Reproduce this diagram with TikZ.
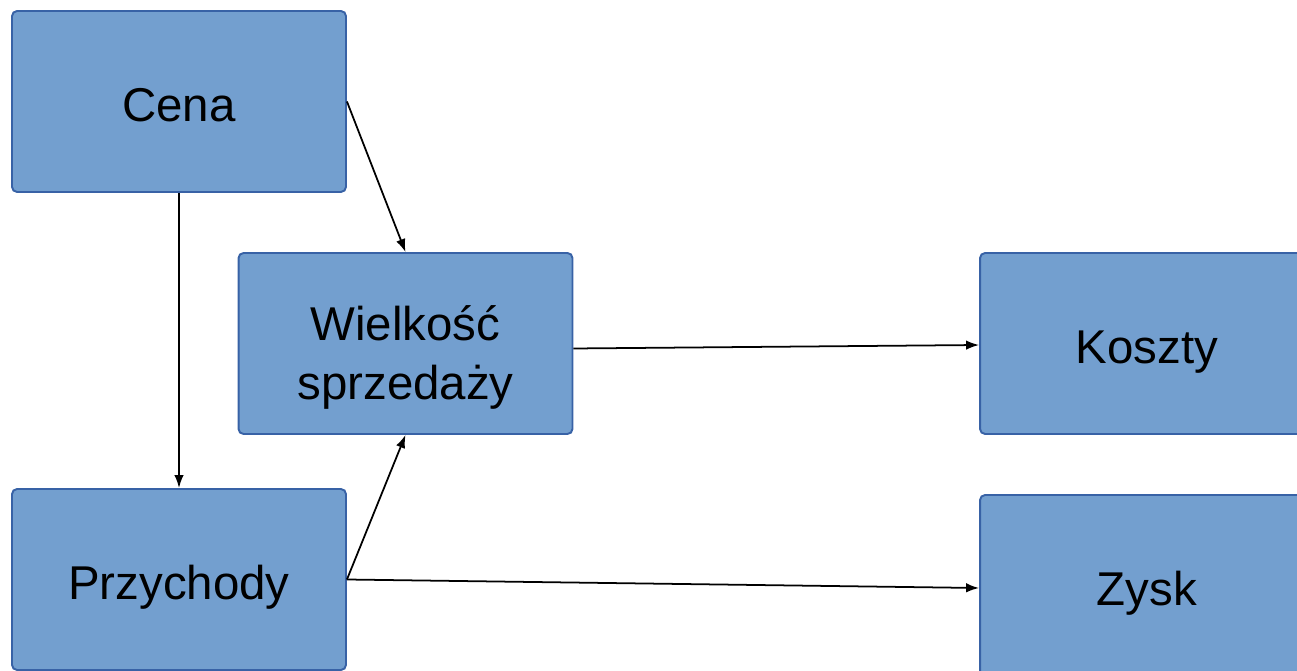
\documentclass[tikz,border=0pt]{standalone}
\usepackage{fontspec}
\setmainfont{Liberation Sans}
\usetikzlibrary{arrows.meta}
\definecolor{boxfill}{RGB}{115,159,207}
\definecolor{boxline}{RGB}{56,98,166}
\tikzset{
  block/.style={draw=boxline, fill=boxfill, line width=1.1pt, rounded corners=0.1cm,
    minimum width=6.68cm, minimum height=3.62cm, inner xsep=0pt, inner ysep=0pt,
    text height=2.22cm, text depth=1.4cm, align=center,
    font=\fontsize{27}{34}\selectfont},
  conn/.style={line width=1pt, -{Latex[length=0.26cm,width=0.19cm]}}
}
\begin{document}
\begin{tikzpicture}[x=0.02cm,y=-0.02cm]
\useasboundingbox (0,0) rectangle (1297,671);
\clip (0,0) rectangle (1297,671);
\node[block] (cena) at (179,101.5) {Cena};
\node[block, text height=2.94cm, text depth=0.68cm] (wielkosc) at (405.5,343.5) {Wielkość\\sprzedaży};
\node[block] (koszty) at (1147,343.5) {Koszty};
\node[block] (przychody) at (179,579.5) {Przychody};
\node[block] (zysk) at (1147,585.5) {Zysk};
\draw[conn] (cena.south) -- (przychody.north);
\draw[conn] (cena.east) -- (wielkosc.north);
\draw[conn] ([yshift=-0.1cm]wielkosc.east) -- ([yshift=-0.03cm]koszty.west);
\draw[conn] (przychody.east) -- (wielkosc.south);
\draw[conn] (przychody.east) -- ([yshift=-0.05cm]zysk.west);
\end{tikzpicture}
\end{document}
